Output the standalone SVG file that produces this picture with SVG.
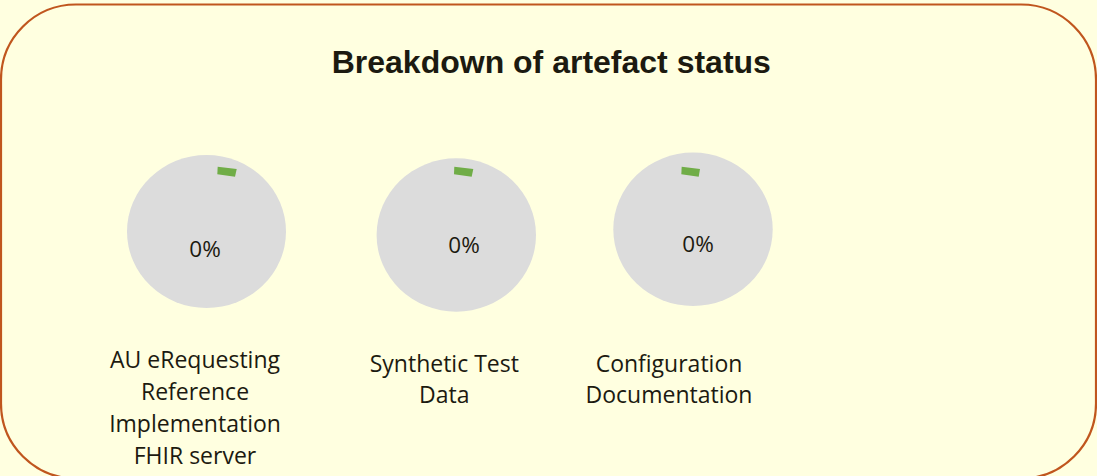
<svg xmlns="http://www.w3.org/2000/svg" width="1097" height="476" viewBox="0 0 1097 476">
  <style>
    .bg { fill: #FFFFE0; }
    .frame { fill: #FFFFE0; stroke: #C0561E; stroke-width: 2.2; }
    .title { font-family: "Liberation Sans", Arial, sans-serif; font-weight: bold; font-size: 32px; fill: #1C1A10; text-anchor: middle; }
    .pie { fill: #DCDCDC; }
    .mark { fill: #70AD47; }
    .pct { font-family: "Open Sans", "Liberation Sans", sans-serif; font-size: 22.5px; fill: #1C1A10; text-anchor: middle; }
    .lbl { font-family: "Open Sans", "Liberation Sans", sans-serif; font-size: 23px; fill: #1C1A10; text-anchor: middle; }
  </style>
  <rect class="bg" x="0" y="0" width="1097" height="476"/>
  <rect id="frame" class="frame" x="1" y="4.5" width="1095" height="474" rx="75" ry="75"/>
  <text id="title" class="title" x="551.3" y="73.3">Breakdown of artefact status</text>

  <g id="node-au">
    <ellipse class="pie" cx="206.5" cy="231.5" rx="79.5" ry="76.5"/>
    <polygon class="mark" points="217.7,166.7 236.7,169 235,176.7 217.3,174.3"/>
    <text class="pct" x="205" y="257.3">0%</text>
    <text class="lbl" x="195" y="367.5">AU eRequesting</text>
    <text class="lbl" x="195" y="399.5">Reference</text>
    <text class="lbl" x="195" y="431.5">Implementation</text>
    <text class="lbl" x="195" y="463.5">FHIR server</text>
  </g>

  <g id="node-synthetic">
    <ellipse class="pie" cx="456.3" cy="235" rx="79.7" ry="76.7"/>
    <polygon class="mark" points="454.3,166.7 473.3,169 471.7,176.7 454,174.3"/>
    <text class="pct" x="464" y="253.3">0%</text>
    <text class="lbl" x="444.3" y="372.3">Synthetic Test</text>
    <text class="lbl" x="444.3" y="403.3">Data</text>
  </g>

  <g id="node-config">
    <ellipse class="pie" cx="693" cy="229.3" rx="79.7" ry="76.7"/>
    <polygon class="mark" points="681.7,166.7 700,169 698.7,176.7 681.3,174.3"/>
    <text class="pct" x="698" y="251.7">0%</text>
    <text class="lbl" x="669" y="372.3">Configuration</text>
    <text class="lbl" x="669" y="403.3">Documentation</text>
  </g>

  <g id="connectors"></g>
</svg>
